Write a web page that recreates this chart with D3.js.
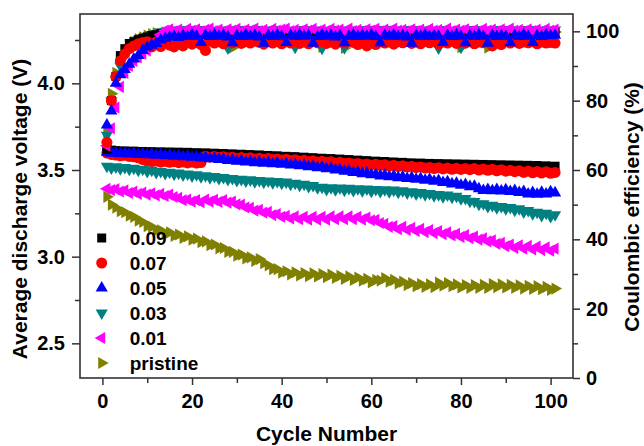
<!DOCTYPE html>
<html>
<head>
<meta charset="utf-8">
<script src="https://cdn.jsdelivr.net/npm/d3@7"></script>
<style>
  body { margin: 0; background: #fff; }
  svg text { font-family: "Liberation Sans", Arial, Helvetica, sans-serif; font-weight: bold; fill: #000; }
</style>
</head>
<body>
<div id="chart"></div>
<script>
// series labels (Mg content) and first cycle number
const seriesNames = ["0.09", "0.07", "0.05", "0.03", "0.01", "pristine"];
const firstCycle = 1;

// average discharge voltage (V), cycles 1..101
const v009 = [3.622,3.615,3.612,3.608,3.610,3.606,3.609,3.604,3.607,3.603,
  3.606,3.601,3.605,3.600,3.604,3.599,3.603,3.598,3.602,3.597,
  3.600,3.595,3.599,3.594,3.597,3.592,3.595,3.590,3.593,3.588,
  3.591,3.586,3.589,3.584,3.587,3.582,3.584,3.579,3.582,3.577,
  3.579,3.574,3.577,3.572,3.574,3.569,3.571,3.566,3.568,3.563,
  3.566,3.561,3.563,3.558,3.560,3.555,3.557,3.552,3.554,3.549,
  3.551,3.546,3.549,3.544,3.546,3.541,3.544,3.539,3.541,3.537,
  3.540,3.535,3.538,3.533,3.537,3.532,3.536,3.531,3.535,3.530,
  3.534,3.529,3.533,3.528,3.532,3.527,3.531,3.526,3.530,3.525,
  3.529,3.524,3.528,3.523,3.527,3.521,3.526,3.520,3.524,3.519,3.522];
const v007 = [3.598,3.590,3.586,3.582,3.585,3.578,3.576,3.570,3.560,3.552,
  3.548,3.552,3.545,3.550,3.544,3.548,3.542,3.546,3.541,3.545,
  3.540,3.543,3.580,3.574,3.578,3.572,3.576,3.570,3.574,3.568,
  3.572,3.566,3.570,3.564,3.568,3.562,3.566,3.560,3.564,3.558,
  3.562,3.555,3.559,3.552,3.556,3.549,3.553,3.546,3.550,3.543,
  3.547,3.540,3.544,3.537,3.541,3.534,3.538,3.531,3.535,3.528,
  3.533,3.526,3.530,3.523,3.527,3.520,3.524,3.517,3.521,3.514,
  3.518,3.511,3.515,3.508,3.513,3.506,3.511,3.504,3.510,3.503,
  3.509,3.502,3.508,3.500,3.506,3.498,3.504,3.495,3.502,3.493,
  3.498,3.490,3.496,3.486,3.494,3.484,3.492,3.482,3.490,3.481,3.486];
const v005 = [3.602,3.596,3.600,3.594,3.598,3.592,3.596,3.590,3.594,3.588,
  3.592,3.585,3.589,3.582,3.586,3.579,3.583,3.576,3.580,3.573,
  3.577,3.570,3.573,3.565,3.568,3.560,3.563,3.555,3.558,3.550,
  3.554,3.546,3.550,3.542,3.547,3.539,3.544,3.536,3.541,3.533,
  3.537,3.529,3.533,3.524,3.528,3.519,3.523,3.513,3.517,3.507,
  3.510,3.500,3.503,3.493,3.496,3.486,3.489,3.479,3.482,3.472,
  3.476,3.466,3.471,3.461,3.466,3.456,3.461,3.451,3.456,3.446,
  3.451,3.441,3.446,3.435,3.440,3.428,3.432,3.420,3.424,3.412,
  3.416,3.404,3.406,3.392,3.382,3.388,3.380,3.387,3.379,3.386,
  3.376,3.382,3.370,3.376,3.362,3.370,3.360,3.372,3.362,3.374,3.368];
const v003 = [3.522,3.512,3.518,3.508,3.514,3.504,3.510,3.498,3.504,3.492,
  3.498,3.486,3.492,3.480,3.487,3.476,3.482,3.471,3.477,3.466,
  3.472,3.461,3.467,3.456,3.462,3.451,3.457,3.446,3.451,3.440,
  3.446,3.436,3.443,3.433,3.440,3.430,3.437,3.427,3.434,3.424,
  3.430,3.418,3.424,3.412,3.418,3.405,3.411,3.398,3.400,3.388,
  3.398,3.386,3.396,3.384,3.394,3.382,3.392,3.380,3.390,3.378,
  3.388,3.376,3.386,3.374,3.384,3.372,3.380,3.368,3.375,3.362,
  3.370,3.357,3.364,3.351,3.358,3.346,3.356,3.343,3.348,3.334,
  3.336,3.320,3.318,3.302,3.305,3.290,3.296,3.282,3.290,3.276,
  3.284,3.268,3.276,3.258,3.266,3.248,3.256,3.238,3.250,3.232,3.242];
const v001 = [3.392,3.384,3.390,3.376,3.382,3.368,3.375,3.362,3.370,3.358,
  3.366,3.354,3.362,3.350,3.358,3.344,3.340,3.326,3.330,3.318,
  3.326,3.314,3.330,3.318,3.328,3.316,3.326,3.312,3.318,3.302,
  3.300,3.284,3.282,3.266,3.270,3.254,3.258,3.240,3.246,3.230,
  3.236,3.220,3.232,3.216,3.230,3.214,3.230,3.214,3.230,3.214,
  3.232,3.216,3.232,3.216,3.232,3.216,3.230,3.214,3.226,3.210,
  3.212,3.194,3.190,3.172,3.176,3.158,3.172,3.154,3.166,3.148,
  3.160,3.142,3.154,3.136,3.148,3.130,3.140,3.122,3.132,3.114,
  3.124,3.106,3.116,3.098,3.106,3.088,3.094,3.074,3.080,3.060,
  3.070,3.050,3.066,3.046,3.062,3.042,3.058,3.038,3.054,3.034,3.046];
const vPristine = [3.345,3.300,3.282,3.262,3.256,3.236,3.230,3.208,3.200,3.176,
  3.172,3.150,3.152,3.132,3.140,3.120,3.128,3.108,3.118,3.098,
  3.104,3.084,3.088,3.066,3.070,3.048,3.050,3.028,3.028,3.006,
  3.012,2.990,2.996,2.976,2.986,2.962,2.950,2.928,2.928,2.908,
  2.916,2.898,2.910,2.892,2.906,2.888,2.904,2.886,2.900,2.882,
  2.896,2.878,2.890,2.872,2.886,2.866,2.880,2.862,2.872,2.852,
  2.866,2.862,2.876,2.856,2.866,2.846,2.856,2.836,2.848,2.830,
  2.842,2.826,2.840,2.824,2.850,2.832,2.848,2.830,2.840,2.822,
  2.836,2.820,2.836,2.820,2.838,2.820,2.842,2.824,2.840,2.822,
  2.838,2.820,2.834,2.816,2.832,2.814,2.830,2.812,2.826,2.808,2.816];

// coulombic efficiency (%), cycles 1..101
const ce009 = [66,80,87,93,95,96.5,97,97.6,98,98.4,
  98.8,99,99.3,99.1,99.5,99.2,99.6,99,99.4,99.7,
  99.2,99.5,99,99.6,99.3,99.7,99.1,99.5,99.2,99.8,
  99.4,99,99.6,99.3,99.7,99.1,99.5,99.2,99.6,99.4,
  99.7,99.1,99.5,99.3,99.6,99,99.4,99.7,99.2,99.5,
  99.1,99.6,99.3,99.7,99,99.5,99.2,99.6,99.4,99.8,
  99.2,99.5,99,99.6,99.3,99.7,99.1,99.5,99.2,99.6,
  99.4,99,99.7,99.3,99.5,99.1,99.6,99.2,99.5,99.3,
  99.7,99,99.4,99.6,99.2,99.5,99.1,99.7,99.3,99.5,
  99,99.6,99.2,99.5,99.3,99.7,99.1,99.4,99.6,99.2,99.5];
const ce007 = [68,80,87,91.5,93.5,95,95.8,96.4,96.8,97,
  95.5,96.8,95.6,97,96,95.5,96.6,95.8,97,96.3,
  96.8,96.2,94.5,97.2,96.6,97,96.4,97.2,96.7,97.1,
  96.5,97,96.6,97.2,96.8,96.3,97,96.6,97.1,96.4,
  97,96.6,97.2,96.5,96.9,96.4,97.1,96.7,97,96.5,
  96.9,96.3,97,96.6,97.2,96.8,96.2,97,95.8,96.6,
  96.2,97.1,96.6,96.9,96.3,97,96.7,97.2,96.5,96.9,
  96.4,97.1,96.7,97,96.3,96.9,96.6,97.2,96.5,97,
  96.6,97.1,96.4,96.9,96.7,97,95.8,96.6,96.2,97,
  96.6,97.1,96.5,96.9,96.7,97,96.4,96.9,96.6,96.8,96.6];
const ce005 = [73,77,85,87.5,89,90.5,92,93,94.5,95.5,
  96,96.5,97.5,98,98.3,98.6,98.2,98.8,98.5,99,
  98.6,96.8,98.9,98.5,99,98.6,98.9,98.4,96.7,98.8,
  98.5,99,98.6,98.9,98.4,96.6,98.8,98.5,99,98.6,
  96.8,98.9,98.5,99,98.6,98.8,96.6,98.5,99,98.6,
  98.9,98.4,98.8,96.7,98.6,99,98.5,98.9,98.6,99,
  98.5,96.7,98.9,98.6,99,98.5,98.8,98.4,96.6,98.9,
  98.6,99,98.5,98.8,98.6,96.8,98.9,98.5,99,98.6,
  96.7,98.8,98.5,99,98.6,96.6,98.9,98.5,98.8,98.6,
  96.7,98.9,98.5,99,98.6,96.8,98.8,98.5,99,98.7,98.9];
const ce003 = [70,80,86,90,93,95,96.5,97.5,98,98.5,
  99,99.4,99.8,100,100.3,99.9,100.4,100,100.5,100.1,
  100.4,100,100.5,100.1,100.3,99.9,100.4,95.2,100.2,100.5,
  100,100.4,100.1,100.5,99.9,100.3,100,100.4,100.1,100.5,
  100,100.3,95.4,100.2,100.5,100,100.4,100.1,95.1,100.3,
  100,100.5,100.1,95.3,100.4,100,100.3,100.1,100.5,100,
  100.4,100.1,100.5,99.9,100.3,100,100.4,100.1,100.5,100,
  100.3,100.1,100.4,100,95.2,100.5,100.1,100.3,100,95.4,
  100.3,100.1,100.5,100,100.4,100.1,100.3,100,100.5,100.1,
  100.4,100,100.3,100.1,100.5,100,100.4,100.1,100.3,100,100.4];
const ce001 = [67,72,78,84,88,90,91.5,92.5,93.5,94.5,
  96,97.5,99,100.2,100.6,100,100.5,99.8,100.7,100.2,
  100.6,100,100.4,100.8,100.1,100.5,99.9,100.6,100.2,100.7,
  100,100.5,100.2,100.8,100.1,100.4,100,100.7,100.2,100.5,
  100.8,100.1,100.4,100,100.6,100.2,100.7,100,100.5,100.1,
  100.7,100.2,100.5,100,100.8,100.1,100.4,100,100.6,100.2,
  100.7,100,100.5,100.1,100.8,100.2,100.4,100,100.6,100.1,
  100.5,100,100.7,100.2,100.4,100,100.8,100.1,100.5,100.2,
  100.6,100,100.4,100.1,100.7,100.2,100.5,100,100.6,100.1,
  100.8,100.2,100.4,100,100.6,100.1,100.5,100,100.7,100.2,100.5];
const cePristine = [71,82,88,92,94.5,96,97,97.8,98.3,98.8,
  99.2,99.5,99.3,99.7,99.4,99.8,99.5,99.9,99.6,99.8,
  99.5,99.9,99.6,99.8,99.4,99.9,99.6,99.8,95.3,99.7,
  99.5,99.9,99.6,99.8,99.5,99.9,99.4,99.8,99.6,99.9,
  99.5,99.8,99.6,99.9,99.5,99.8,99.6,99.9,95.5,99.7,
  99.5,99.9,99.6,95.2,99.8,99.5,99.9,99.6,99.8,99.5,
  99.9,99.6,99.8,99.4,99.9,99.6,99.8,99.5,99.9,99.6,
  99.8,99.5,99.9,99.6,99.8,99.5,99.9,99.6,99.8,95.4,
  99.6,99.9,99.5,99.8,99.6,95.3,99.8,99.5,99.9,99.6,
  99.8,99.5,99.9,99.6,99.8,99.5,99.9,99.6,99.8,99.5,99.8];

// axis ticks
const xTicks = [0, 20, 40, 60, 80, 100];
const xMinor = [10, 30, 50, 70, 90];
const vTicks = [2.5, 3.0, 3.5, 4.0];
const vMinor = [2.75, 3.25, 3.75, 4.25];
const ceTicks = [0, 20, 40, 60, 80, 100];
const ceMinor = [10, 30, 50, 70, 90];

const colors = ["#000000", "#ff0000", "#0000ff", "#008080", "#ff00ff", "#808000"];
const shapes = ["square", "circle", "up", "down", "left", "right"];
const voltData = [v009, v007, v005, v003, v001, vPristine];
const ceData = [ce009, ce007, ce005, ce003, ce001, cePristine];

const fullWidth = 644, fullHeight = 446;
const margin = { top: 14, right: 71, bottom: 68, left: 80 };
const width = fullWidth - margin.left - margin.right;
const height = fullHeight - margin.top - margin.bottom;
const axisColor = "#333";

const svg = d3.select("#chart").append("svg")
    .attr("width", fullWidth)
    .attr("height", fullHeight);
const g = svg.append("g").attr("transform", `translate(${margin.left},${margin.top})`);

const x = d3.scaleLinear().domain([-5, 105]).range([0, width]);
const yV = d3.scaleLinear().domain([2.3, 4.4]).range([height, 0]);
const yC = d3.scaleLinear().domain([0, 105]).range([height, 0]);

function symbolPath(shape) {
    if (shape === "square") return d3.symbol().type(d3.symbolSquare).size(81)();
    if (shape === "circle") return d3.symbol().type(d3.symbolCircle).size(95)();
    return d3.symbol().type(d3.symbolTriangle).size(64)();
}
function symbolRotate(shape) {
    return { down: 180, left: -90, right: 90 }[shape] || 0;
}

function styleAxis(sel, size) {
    sel.attr("font-family", null).attr("font-size", null);
    sel.select(".domain").remove();
    sel.selectAll("line").attr("stroke", axisColor).attr("stroke-width", 1.5);
    sel.selectAll("text").style("font-size", size);
}

// axes
g.append("g").attr("transform", `translate(0,${height})`)
    .call(d3.axisBottom(x).tickValues(xTicks).tickSize(7).tickPadding(9).tickSizeOuter(0))
    .call(s => styleAxis(s, "20px"));
g.append("g").attr("transform", `translate(0,${height})`)
    .call(d3.axisBottom(x).tickValues(xMinor).tickSize(5).tickFormat("").tickSizeOuter(0))
    .call(s => styleAxis(s, "20px"));

g.append("g")
    .call(d3.axisLeft(yV).tickValues(vTicks).tickSize(8).tickPadding(7).tickFormat(d3.format(".1f")).tickSizeOuter(0))
    .call(s => styleAxis(s, "20px"));
g.append("g")
    .call(d3.axisLeft(yV).tickValues(vMinor).tickSize(5).tickFormat("").tickSizeOuter(0))
    .call(s => styleAxis(s, "20px"));

g.append("g").attr("transform", `translate(${width},0)`)
    .call(d3.axisRight(yC).tickValues(ceTicks).tickSize(7).tickPadding(6).tickSizeOuter(0))
    .call(s => styleAxis(s, "20px"));
g.append("g").attr("transform", `translate(${width},0)`)
    .call(d3.axisRight(yC).tickValues(ceMinor).tickSize(5).tickFormat("").tickSizeOuter(0))
    .call(s => styleAxis(s, "20px"));

// frame
g.append("rect")
    .attr("width", width).attr("height", height)
    .attr("fill", "none").attr("stroke", axisColor).attr("stroke-width", 1.6);

// voltage markers
voltData.forEach((arr, k) => {
    g.append("g").selectAll("path")
        .data(arr).enter().append("path")
        .attr("d", symbolPath(shapes[k]))
        .attr("transform", (d, i) => `translate(${x(firstCycle + i)},${yV(d)}) rotate(${symbolRotate(shapes[k])})`)
        .attr("fill", colors[k]);
});

// coulombic efficiency markers (drawn in a different stacking order)
[5, 3, 0, 4, 1, 2].forEach(k => {
    g.append("g").selectAll("path")
        .data(ceData[k]).enter().append("path")
        .attr("d", symbolPath(shapes[k]))
        .attr("transform", (d, i) => `translate(${x(firstCycle + i)},${yC(d)}) rotate(${symbolRotate(shapes[k])})`)
        .attr("fill", colors[k]);
});

// legend
const legend = g.append("g").attr("transform", `translate(${101.7 - margin.left},${238 - margin.top})`);
seriesNames.forEach((name, k) => {
    const row = legend.append("g").attr("transform", `translate(0,${k * 25})`);
    row.append("path")
        .attr("d", symbolPath(shapes[k]))
        .attr("transform", `rotate(${symbolRotate(shapes[k])})`)
        .attr("fill", colors[k]);
    row.append("text")
        .attr("x", 28).attr("y", 7)
        .style("font-size", "19px")
        .text(name);
});

// axis titles
svg.append("text")
    .attr("transform", `translate(27,209) rotate(-90)`)
    .attr("text-anchor", "middle")
    .style("font-size", "21px")
    .text("Average discharge voltage (V)");
svg.append("text")
    .attr("transform", `translate(639,207) rotate(-90)`)
    .attr("text-anchor", "middle")
    .style("font-size", "21px")
    .text("Coulombic efficiency (%)");
svg.append("text")
    .attr("x", margin.left + width / 2).attr("y", 441)
    .attr("text-anchor", "middle")
    .style("font-size", "21px")
    .text("Cycle Number");
</script>
</body>
</html>
